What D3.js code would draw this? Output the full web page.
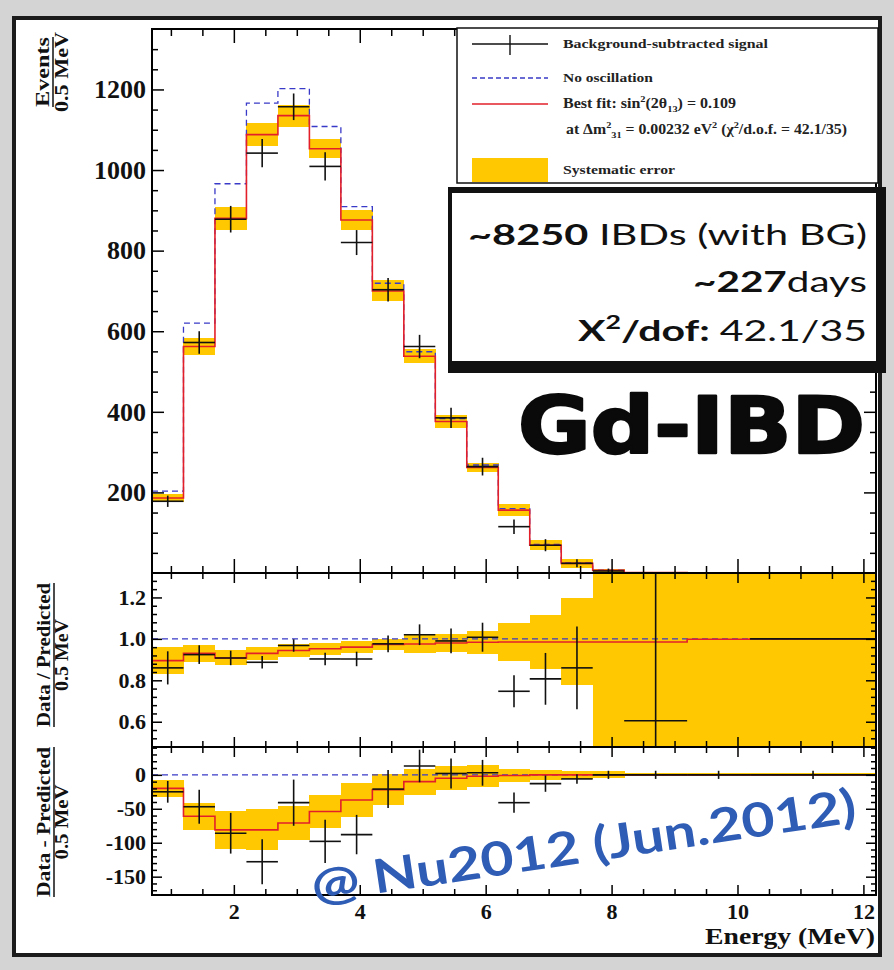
<!DOCTYPE html>
<html>
<head>
<meta charset="utf-8">
<script src="https://cdn.jsdelivr.net/npm/d3@7"></script>
<style>
  body { margin: 0; background: #d4d4d4; }
  svg { display: block; }
</style>
</head>
<body>
<svg id="chart" width="894" height="970"></svg>
<script>
// ---- data ----
const binEdges = [0.7, 1.2, 1.7, 2.2, 2.7, 3.2, 3.7, 4.2, 4.7, 5.2, 5.7, 6.2, 6.7, 7.2, 7.7, 8.2, 9.2, 10.2, 12.2];

// top panel: events / 0.5 MeV
const eventsData  = [178, 572, 878, 1042, 1157, 1009, 820, 703, 562, 385, 264, 115, 69, 24, 5, null, null, null];
const eventsErr   = [14, 28, 33, 35, 33, 35, 31, 29, 29, 25, 22, 18, 15, 10, 6, null, null, null];
const eventsFit   = [186, 562, 880, 1088, 1135, 1053, 876, 700, 538, 376, 262, 156, 69, 24, 7, 1, 0, 0];
const eventsNoOsc = [203, 620, 966, 1166, 1202, 1108, 909, 719, 549, 383, 268, 160, 71, 25, 7, 1, 0, 0];
const eventsSyst  = [10, 21, 28, 29, 27, 23, 24, 26, 18, 15, 12, 14, 12, 11, 4, 2, 1, 1];

// middle panel: data / predicted
const ratioData = [0.86, 0.924, 0.908, 0.887, 0.968, 0.903, 0.903, 0.976, 1.02, 0.99, 1.008, 0.747, 0.807, 0.86, null, 0.605, null, 1.0];
const ratioErr  = [0.08, 0.045, 0.035, 0.03, 0.03, 0.03, 0.035, 0.04, 0.05, 0.06, 0.07, 0.077, 0.125, 0.2, null, 1.0, null, 0];
const ratioFit  = [0.895, 0.93, 0.908, 0.93, 0.944, 0.952, 0.96, 0.973, 0.975, 0.98, 0.984, 0.985, 0.985, 0.985, 0.985, 0.985, 0.998, 1.0];
const ratioSyst = [0.065, 0.04, 0.036, 0.03, 0.03, 0.028, 0.028, 0.028, 0.045, 0.045, 0.055, 0.093, 0.13, 0.21, 1, 1, 1, 1];

// bottom panel: data - predicted
const diffData = [-25, -47, -86, -128, -41, -98, -88, -21, 13, 2, 3, -41, -13, -6, 0, 0, 0, 0];
const diffErr  = [16, 25, 30, 33, 34, 32, 29, 28, 24, 22, 19, 15, 12, 7, 6, 6, 6, 6];
const diffFit  = [-20, -61, -81, -81, -71, -54, -37, -22, -10, -5, -2, -1, 0, 0, 0, 0, 0, 0];
const diffSyst = [12, 20, 28, 30, 25, 25, 25, 23, 19, 18, 16, 10, 7, 6, 5, 2, 2, 2];

const xMajor = [2, 4, 6, 8, 10, 12];
const xMinor = d3.range(1, 12.01, 0.5).filter(v => v % 2 !== 0);

const bins = binEdges.slice(0, -1).map((lo, i) => ({ lo, hi: binEdges[i + 1], c: (lo + binEdges[i + 1]) / 2 }));

// ---- canvas ----
const svg = d3.select("#chart");
const serif = "'Liberation Serif','Times New Roman',serif";
const sans = "Lato,'Open Sans','DejaVu Sans',sans-serif";
const yellow = "#ffc800";
const red = "#e3202a";
const blue = "#3a3ac8";

svg.append("rect").attr("width", 894).attr("height", 970).attr("fill", "#d4d4d4");
svg.append("rect")
    .attr("x", 14).attr("y", 18).attr("width", 866).attr("height", 937)
    .attr("fill", "#fff").attr("stroke", "#1b1b1b").attr("stroke-width", 4);

const x = d3.scaleLinear().domain([0.7, 12.2]).range([152, 876]);

const panels = [
    { name: "top",  top: 29,  bottom: 573, y: d3.scaleLinear().domain([0, 1350]).range([573, 29]),
      major: [200, 400, 600, 800, 1000, 1200], minor: d3.range(50, 1301, 50).filter(v => v % 200 !== 0),
      fmt: d3.format("d"), font: 26, yLen: 12, yMin: 6, xLen: 14, xMin: 7 },
    { name: "ratio", top: 573, bottom: 747, y: d3.scaleLinear().domain([0.478, 1.318]).range([747, 573]),
      major: [0.6, 0.8, 1.0, 1.2], minor: d3.range(0.52, 1.3, 0.04).filter(v => Math.abs(v * 5 - Math.round(v * 5)) > 0.01),
      fmt: d3.format(".1f"), font: 22, yLen: 10, yMin: 5, xLen: 10, xMin: 6 },
    { name: "diff", top: 747, bottom: 895, y: d3.scaleLinear().domain([-177, 41]).range([895, 747]),
      major: [-150, -100, -50, 0], minor: d3.range(-170, 41, 10).filter(v => v % 50 !== 0),
      fmt: d3.format("d"), font: 22, yLen: 10, yMin: 5, xLen: 10, xMin: 6 }
];

panels.forEach(p => {
    svg.append("clipPath").attr("id", "clip-" + p.name)
        .append("rect").attr("x", 152).attr("y", p.top).attr("width", 724).attr("height", p.bottom - p.top);
    p.g = svg.append("g").attr("clip-path", `url(#clip-${p.name})`);
});

function stepPoints(vals) {
    const pts = [];
    bins.forEach((b, i) => { pts.push([b.lo, vals[i]]); pts.push([b.hi, vals[i]]); });
    return pts;
}

function drawPanel(p, data, err, fit, ref, syst, refIsFlat) {
    const y = p.y;
    // systematic band
    p.g.selectAll("rect.band").data(bins).join("rect").attr("class", "band")
        .attr("x", d => x(d.lo)).attr("width", d => x(d.hi) - x(d.lo) + 0.5)
        .attr("y", (d, i) => y(fit[i] + syst[i]))
        .attr("height", (d, i) => y(fit[i] - syst[i]) - y(fit[i] + syst[i]))
        .attr("fill", yellow).attr("shape-rendering", "crispEdges");

    const line = d3.line().x(d => x(d[0])).y(d => y(d[1]));
    // no oscillation reference
    const refPts = refIsFlat ? [[0.7, ref], [12.2, ref]] : stepPoints(ref);
    p.g.append("path").attr("d", line(refPts)).attr("fill", "none")
        .attr("stroke", blue).attr("stroke-width", 1.3).attr("stroke-dasharray", "6,4");
    // best fit
    p.g.append("path").attr("d", line(stepPoints(fit))).attr("fill", "none")
        .attr("stroke", red).attr("stroke-width", 1.6);

    // data crosses
    bins.forEach((b, i) => {
        if (data[i] === null) return;
        p.g.append("line").attr("x1", x(b.lo)).attr("x2", x(b.hi))
            .attr("y1", y(data[i])).attr("y2", y(data[i]))
            .attr("stroke", "#111").attr("stroke-width", 1.6);
        if (err[i] > 0) {
            p.g.append("line").attr("x1", x(b.c)).attr("x2", x(b.c))
                .attr("y1", y(data[i] - err[i])).attr("y2", y(data[i] + err[i]))
                .attr("stroke", "#111").attr("stroke-width", 1.6);
        }
    });
}

drawPanel(panels[0], eventsData, eventsErr, eventsFit, eventsNoOsc, eventsSyst, false);
drawPanel(panels[1], ratioData, ratioErr, ratioFit, 1.0, ratioSyst, true);
drawPanel(panels[2], diffData, diffErr, diffFit, 0, diffSyst, true);

// ---- axes and frames ----
function styleAxis(g) {
    g.select(".domain").remove();
    g.selectAll(".tick line").attr("stroke", "#000").attr("stroke-width", 1.5);
}

panels.forEach((p, k) => {
    const y = p.y;
    // y axis left, majors with labels
    svg.append("g").attr("transform", "translate(152,0)")
        .call(d3.axisLeft(y).tickValues(p.major).tickSizeInner(-p.yLen).tickSizeOuter(0).tickPadding(6).tickFormat(p.fmt))
        .call(styleAxis)
        .selectAll("text").attr("font-family", serif).attr("font-weight", "bold")
        .attr("font-size", p.font).attr("fill", "#111").text(d => p.fmt(d).replace("−", "-"));
    svg.append("g").attr("transform", "translate(152,0)")
        .call(d3.axisLeft(y).tickValues(p.minor).tickSizeInner(-p.yMin).tickSizeOuter(0).tickFormat(""))
        .call(styleAxis);
    // y axis right
    svg.append("g").attr("transform", "translate(876,0)")
        .call(d3.axisRight(y).tickValues(p.major).tickSizeInner(-p.yLen).tickSizeOuter(0).tickFormat(""))
        .call(styleAxis);
    svg.append("g").attr("transform", "translate(876,0)")
        .call(d3.axisRight(y).tickValues(p.minor).tickSizeInner(-p.yMin).tickSizeOuter(0).tickFormat(""))
        .call(styleAxis);
    // x axis top and bottom ticks
    svg.append("g").attr("transform", `translate(0,${p.top})`)
        .call(d3.axisTop(x).tickValues(xMajor).tickSizeInner(-p.xLen).tickSizeOuter(0).tickFormat(""))
        .call(styleAxis);
    svg.append("g").attr("transform", `translate(0,${p.top})`)
        .call(d3.axisTop(x).tickValues(xMinor).tickSizeInner(-p.xMin).tickSizeOuter(0).tickFormat(""))
        .call(styleAxis);
    const last = k === panels.length - 1;
    const bx = svg.append("g").attr("transform", `translate(0,${p.bottom})`)
        .call(d3.axisBottom(x).tickValues(xMajor).tickSizeInner(-p.xLen).tickSizeOuter(0).tickPadding(8)
            .tickFormat(last ? d3.format("d") : ""))
        .call(styleAxis);
    bx.selectAll("text").attr("font-family", serif).attr("font-weight", "bold")
        .attr("font-size", 22).attr("fill", "#111");
    svg.append("g").attr("transform", `translate(0,${p.bottom})`)
        .call(d3.axisBottom(x).tickValues(xMinor).tickSizeInner(-p.xMin).tickSizeOuter(0).tickFormat(""))
        .call(styleAxis);
    // frame
    svg.append("rect").attr("x", 152).attr("y", p.top).attr("width", 724).attr("height", p.bottom - p.top)
        .attr("fill", "none").attr("stroke", "#000").attr("stroke-width", 2);
});

// x title
svg.append("text").attr("x", 705).attr("y", 944)
    .attr("font-family", serif).attr("font-weight", "bold").attr("font-size", 23).attr("fill", "#111")
    .attr("textLength", 170).attr("lengthAdjust", "spacingAndGlyphs")
    .text("Energy (MeV)");

// y titles as fractions
function fracLabel(cx, cy, num, den, numLen, denLen, size) {
    const g = svg.append("g").attr("transform", `translate(${cx},${cy}) rotate(-90)`)
        .attr("font-family", serif).attr("font-weight", "bold").attr("font-size", size).attr("fill", "#111");
    g.append("text").attr("y", -4).attr("text-anchor", "middle")
        .attr("textLength", numLen).attr("lengthAdjust", "spacingAndGlyphs").text(num);
    g.append("line").attr("x1", -numLen / 2).attr("x2", numLen / 2).attr("y1", 0).attr("y2", 0)
        .attr("stroke", "#111").attr("stroke-width", 1.5);
    g.append("text").attr("y", size * 0.78).attr("text-anchor", "middle")
        .attr("textLength", denLen).attr("lengthAdjust", "spacingAndGlyphs").text(den);
}
fracLabel(53, 72, "Events", "0.5 MeV", 70, 80, 19);
fracLabel(54, 655, "Data / Predicted", "0.5 MeV", 144, 72, 18);
fracLabel(54, 822, "Data - Predicted", "0.5 MeV", 150, 75, 18);

// ---- rich text helper (super / subscripts, mixed weights) ----
function rich(parent, x0, y0, segs, size, family) {
    const t = parent.append("text").attr("x", x0).attr("y", y0)
        .attr("font-family", family).attr("font-size", size).attr("fill", "#111");
    let cur = 0;
    segs.forEach(s => {
        const shift = s.s === "sup" ? -size * 0.4 : s.s === "sub" ? size * 0.3 : 0;
        t.append("tspan").attr("dy", shift - cur)
            .attr("font-size", s.s ? size * 0.65 : size)
            .attr("font-weight", s.w || null).text(s.t);
        cur = shift;
    });
    return t;
}

// ---- legend ----
const leg = svg.append("g");
leg.append("rect").attr("x", 457).attr("y", 28).attr("width", 421).attr("height", 155)
    .attr("fill", "#fff").attr("stroke", "#111").attr("stroke-width", 1.5);
leg.append("line").attr("x1", 472).attr("x2", 548).attr("y1", 44).attr("y2", 44).attr("stroke", "#111").attr("stroke-width", 1.4);
leg.append("line").attr("x1", 510).attr("x2", 510).attr("y1", 35).attr("y2", 55).attr("stroke", "#111").attr("stroke-width", 1.4);
leg.append("line").attr("x1", 472).attr("x2", 548).attr("y1", 78).attr("y2", 78)
    .attr("stroke", blue).attr("stroke-width", 1.3).attr("stroke-dasharray", "5,3");
leg.append("line").attr("x1", 472).attr("x2", 548).attr("y1", 104).attr("y2", 104).attr("stroke", red).attr("stroke-width", 1.4);
leg.append("rect").attr("x", 472).attr("y", 158).attr("width", 76).attr("height", 24).attr("fill", yellow);

const legFont = 13;
leg.append("text").attr("x", 563).attr("y", 48).attr("font-family", serif).attr("font-weight", "bold")
    .attr("font-size", legFont).attr("fill", "#222").attr("textLength", 205).attr("lengthAdjust", "spacingAndGlyphs")
    .text("Background-subtracted signal");
leg.append("text").attr("x", 563).attr("y", 82).attr("font-family", serif).attr("font-weight", "bold")
    .attr("font-size", legFont).attr("fill", "#222").attr("textLength", 90).attr("lengthAdjust", "spacingAndGlyphs")
    .text("No oscillation");
rich(leg, 563, 108, [
    { t: "Best fit: sin", w: "bold" }, { t: "2", s: "sup", w: "bold" },
    { t: "(2θ", w: "bold" }, { t: "13", s: "sub", w: "bold" }, { t: ") = 0.109", w: "bold" }
], 14, serif).attr("fill", "#222").attr("textLength", 173).attr("lengthAdjust", "spacingAndGlyphs");
rich(leg, 566, 134, [
    { t: "at Δm", w: "bold" }, { t: "2", s: "sup", w: "bold" }, { t: "31", s: "sub", w: "bold" },
    { t: " = 0.00232 eV", w: "bold" }, { t: "2", s: "sup", w: "bold" },
    { t: "  (χ", w: "bold" }, { t: "2", s: "sup", w: "bold" }, { t: "/d.o.f. = 42.1/35)", w: "bold" }
], 14, serif).attr("fill", "#222").attr("textLength", 281).attr("lengthAdjust", "spacingAndGlyphs");
leg.append("text").attr("x", 563).attr("y", 174).attr("font-family", serif).attr("font-weight", "bold")
    .attr("font-size", legFont).attr("fill", "#222").attr("textLength", 112).attr("lengthAdjust", "spacingAndGlyphs")
    .text("Systematic error");

// ---- annotation box ----
const ann = svg.append("g");
ann.append("rect").attr("x", 448).attr("y", 187).attr("width", 438).attr("height", 186).attr("fill", "#111");
ann.append("rect").attr("x", 452).attr("y", 193).attr("width", 424).attr("height", 168).attr("fill", "#fff");

rich(ann, 468, 245, [{ t: "~8250", w: "bold" }, { t: " IBDs (with BG)" }], 29, sans)
    .attr("textLength", 399).attr("lengthAdjust", "spacingAndGlyphs");
rich(ann, 693, 292, [{ t: "~227", w: "bold" }, { t: "days" }], 29, sans)
    .attr("textLength", 174).attr("lengthAdjust", "spacingAndGlyphs");
rich(ann, 578, 341, [{ t: "X", w: "bold" }, { t: "2", s: "sup", w: "bold" }, { t: "/dof: ", w: "bold" }, { t: "42.1/35" }], 29, sans)
    .attr("textLength", 289).attr("lengthAdjust", "spacingAndGlyphs");

svg.append("text").attr("x", 518).attr("y", 453)
    .attr("font-family", "'DejaVu Sans',Lato,sans-serif").attr("font-weight", "bold")
    .attr("font-size", 78).attr("fill", "#0a0a0a")
    .attr("stroke", "#0a0a0a").attr("stroke-width", 2.5).attr("stroke-linejoin", "round")
    .attr("textLength", 347).attr("lengthAdjust", "spacingAndGlyphs")
    .text("Gd-IBD");

// ---- conference stamp ----
svg.append("text")
    .attr("transform", "translate(314,903) rotate(-8.5)")
    .attr("font-family", sans).attr("font-weight", "bold")
    .attr("font-size", 47).attr("fill", "#2f5cb5")
    .attr("textLength", 550).attr("lengthAdjust", "spacingAndGlyphs")
    .text("@ Nu2012 (Jun.2012)");
</script>
</body>
</html>
